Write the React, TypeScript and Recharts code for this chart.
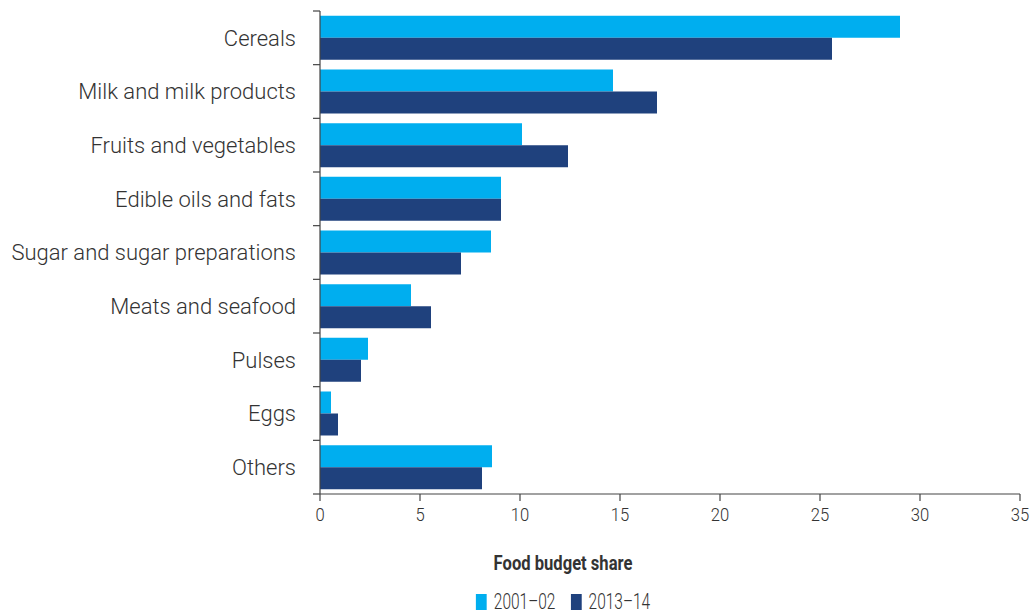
import React from 'react';
import { BarChart, Bar, XAxis, YAxis, Legend } from 'recharts';

const categories = [
  'Cereals',
  'Milk and milk products',
  'Fruits and vegetables',
  'Edible oils and fats',
  'Sugar and sugar preparations',
  'Meats and seafood',
  'Pulses',
  'Eggs',
  'Others',
];
const share2001 = [29.0, 14.65, 10.1, 9.05, 8.55, 4.55, 2.4, 0.55, 8.6];
const share2013 = [25.6, 16.85, 12.4, 9.05, 7.05, 5.55, 2.05, 0.9, 8.1];
const xTicks = [0, 5, 10, 15, 20, 25, 30, 35];
const seriesNames = ['2001–02', '2013–14'];
const axisTitle = 'Food budget share';

const data = categories.map((c, i) => ({ category: c, s2001: share2001[i], s2013: share2013[i] }));

const LIGHT = '#00aeef';
const DARK = '#1f417d';
const AXIS = '#444444';
const TEXT = '#333333';
const FONT = "Roboto, 'Liberation Sans', Arial, sans-serif";

const YTick = (props: any) => {
  const { x, y, payload, index } = props;
  const half = payload && typeof payload.offset === 'number' && payload.offset > 0 ? payload.offset : 26.8;
  const ax = x + 24;
  return (
    <g>
      <line x1={ax - 7} x2={ax} y1={y - half} y2={y - half} stroke={AXIS} strokeWidth={1.2} />
      {index === categories.length - 1 && (
        <line x1={ax - 7} x2={ax} y1={y + half} y2={y + half} stroke={AXIS} strokeWidth={1.2} />
      )}
      <text x={x} y={y} dy="0.36em" textAnchor="end" fontSize={22} fill={TEXT} fontFamily={FONT} fontWeight={300}>
        {payload.value}
      </text>
    </g>
  );
};

const XTick = (props: any) => {
  const { x, y, payload } = props;
  return (
    <g transform={`translate(${x},${y}) scale(0.9,1)`}>
      <text x={0} y={0} dy="0.72em" textAnchor="middle" fontSize={18.5} fill={TEXT} fontFamily={FONT} fontWeight={300}>
        {payload.value}
      </text>
    </g>
  );
};

const renderLegend = (props: any) => {
  const payload = props.payload || [];
  return (
    <div style={{ width: 400, fontFamily: FONT, color: TEXT, textAlign: 'center' }}>
      <div
        style={{
          fontSize: 21,
          fontWeight: 700,
          lineHeight: '24px',
          height: 24,
          transform: 'scaleX(0.79)',
          transformOrigin: '50% 0',
        }}
      >
        {axisTitle}
      </div>
      <div
        style={{
          display: 'flex',
          justifyContent: 'center',
          alignItems: 'center',
          marginTop: 15,
          height: 24,
          transform: 'scaleX(0.72)',
          transformOrigin: '50% 0',
        }}
      >
        {payload.map((p: any, i: number) => (
          <div key={i} style={{ display: 'flex', alignItems: 'center', marginLeft: i === 0 ? 0 : 21 }}>
            <span style={{ display: 'inline-block', width: 15, height: 16, background: p.color, marginRight: 10 }} />
            <span style={{ fontSize: 21.5, fontWeight: 300, lineHeight: '24px' }}>{p.value}</span>
          </div>
        ))}
      </div>
    </div>
  );
};

export default function App() {
  return (
    <div style={{ position: 'absolute', left: 0, top: 0, width: 1036, height: 615, background: '#fff' }}>
      <BarChart
        width={1036}
        height={615}
        data={data}
        layout="vertical"
        margin={{ top: 11, right: 16, bottom: 91, left: 0 }}
        barCategoryGap="9%"
        barGap={0}
      >
        <XAxis
          type="number"
          domain={[0, 35]}
          ticks={xTicks}
          interval={0}
          height={30}
          tickSize={7}
          tickMargin={7}
          stroke={AXIS}
          axisLine={{ stroke: AXIS, strokeWidth: 1.2 }}
          tickLine={{ stroke: AXIS, strokeWidth: 1.2 }}
          tick={<XTick />}
        />
        <YAxis
          type="category"
          dataKey="category"
          width={320}
          interval={0}
          tickSize={7}
          tickMargin={17}
          tickLine={false}
          axisLine={{ stroke: AXIS, strokeWidth: 1.2 }}
          tick={<YTick />}
        />
        <Legend
          layout="horizontal"
          verticalAlign="middle"
          align="center"
          content={renderLegend}
          wrapperStyle={{ position: 'absolute', left: 363, top: 551, width: 400, height: 64 }}
        />
        <Bar dataKey="s2001" name={seriesNames[0]} fill={LIGHT} isAnimationActive={false} />
        <Bar dataKey="s2013" name={seriesNames[1]} fill={DARK} isAnimationActive={false} />
      </BarChart>
    </div>
  );
}
